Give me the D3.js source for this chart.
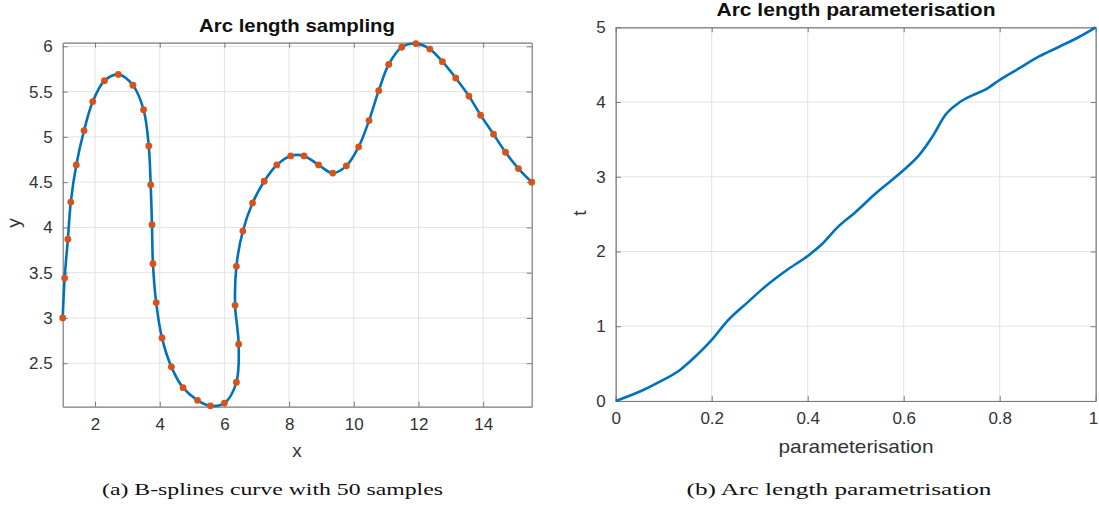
<!DOCTYPE html>
<html>
<head>
<meta charset="utf-8">
<script src="https://cdn.jsdelivr.net/npm/d3@7"></script>
<style>
  html, body { margin: 0; padding: 0; background: #fff; }
  svg { display: block; }
</style>
</head>
<body>
<svg id="chart" width="1099" height="506"></svg>
<script>
// ---- Data: (a) 50 arc-length samples on the B-spline curve ----
const sampleX = [1.00,1.06,1.16,1.25,1.42,1.66,1.93,2.29,2.72,3.17,
                 3.50,3.66,3.72,3.76,3.79,3.89,4.07,4.36,4.72,5.17,
                 5.57,6.00,6.37,6.44,6.33,6.37,6.57,6.87,7.23,7.62,
                 8.05,8.46,8.91,9.35,9.77,10.15,10.47,10.77,11.08,11.48,
                 11.92,12.35,12.74,13.15,13.56,13.92,14.32,14.69,15.09,15.50];
const sampleY = [3.00,3.44,3.87,4.28,4.69,5.07,5.39,5.62,5.69,5.57,
                 5.30,4.90,4.47,4.03,3.60,3.17,2.78,2.46,2.23,2.09,
                 2.03,2.06,2.29,2.71,3.14,3.57,3.96,4.27,4.51,4.69,
                 4.79,4.79,4.69,4.60,4.68,4.89,5.18,5.51,5.80,5.99,
                 6.03,5.97,5.83,5.65,5.45,5.24,5.03,4.83,4.65,4.50];
const xTicksA = [2,4,6,8,10,12,14];
const yTicksA = [2.5,3,3.5,4,4.5,5,5.5,6];

// ---- Data: (b) arc length parameterisation ----
const paramS = [0,0.0575,0.092,0.134,0.162,0.2,0.231,0.273,0.315,0.356,
                0.4,0.43,0.46,0.5,0.542,0.6,0.632,0.66,
                0.687,0.715,0.743,0.771,0.801,0.84,0.882,0.924,0.965,1];
const paramT = [0,0.147,0.258,0.415,0.571,0.817,1.06,1.31,1.55,1.75,
                1.94,2.10,2.31,2.53,2.78,3.09,3.29,3.54,
                3.83,3.99,4.09,4.17,4.30,4.45,4.61,4.74,4.87,5];
const xTicksB = [0,0.2,0.4,0.6,0.8,1];
const yTicksB = [0,1,2,3,4,5];

const svg = d3.select("#chart");
const LINE = "#0072BD", MARK = "#D95319", AXIS = "#7a7a7a", GRID = "#e3e3e3", TXT = "#333333";
const SANS = "'Liberation Sans', Arial, sans-serif";
const SERIF = "'Liberation Serif', 'DejaVu Serif', serif";

function panel(o) {
  const x = d3.scaleLinear().domain(o.xDomain).range([o.left, o.right]);
  const y = d3.scaleLinear().domain(o.yDomain).range([o.bottom, o.top]);
  const g = svg.append("g");
  g.append("g").selectAll("line").data(o.xTicks).join("line")
    .attr("x1", d => x(d)).attr("x2", d => x(d)).attr("y1", o.top).attr("y2", o.bottom)
    .attr("stroke", GRID).attr("stroke-width", 1);
  g.append("g").selectAll("line").data(o.yTicks).join("line")
    .attr("y1", d => y(d)).attr("y2", d => y(d)).attr("x1", o.left).attr("x2", o.right)
    .attr("stroke", GRID).attr("stroke-width", 1);
  const fmt = o.fmt;
  const ax = (gen, tr) => g.append("g").attr("transform", tr).call(gen);
  const bottom = ax(d3.axisBottom(x).tickValues(o.xTicks).tickFormat(fmt).tickSizeInner(-5).tickSizeOuter(0).tickPadding(11), `translate(0,${o.bottom})`);
  const left = ax(d3.axisLeft(y).tickValues(o.yTicks).tickFormat(fmt).tickSizeInner(-5).tickSizeOuter(0).tickPadding(10), `translate(${o.left},0)`);
  const top = ax(d3.axisTop(x).tickValues(o.xTicks).tickFormat("").tickSizeInner(-5).tickSizeOuter(0), `translate(0,${o.top})`);
  const right = ax(d3.axisRight(y).tickValues(o.yTicks).tickFormat("").tickSizeInner(-5).tickSizeOuter(0), `translate(${o.right},0)`);
  [bottom, left, top, right].forEach(a => {
    a.select(".domain").attr("stroke", AXIS).attr("stroke-width", 1.2);
    a.selectAll(".tick line").attr("stroke", AXIS).attr("stroke-width", 1);
    a.selectAll(".tick text").attr("fill", TXT).style("font-size", "17px").style("font-family", SANS);
  });
  return {x, y, g, bottom};
}

function label(x, y, txt, opts) {
  const t = svg.append("text").attr("x", x).attr("y", y).attr("text-anchor", "middle")
    .style("font-family", opts.family || SANS).style("font-size", opts.size + "px")
    .attr("fill", opts.fill || TXT).text(txt);
  if (opts.bold) t.style("font-weight", "bold");
  if (opts.len) t.attr("textLength", opts.len).attr("lengthAdjust", "spacingAndGlyphs");
  if (opts.rotate) t.attr("x", null).attr("y", null).attr("transform", `translate(${x},${y}) rotate(-90)`);
  return t;
}

// ---- Panel (a) ----
const A = panel({left: 62.7, right: 531.7, top: 42.7, bottom: 406.7,
  xDomain: [1, 15.5], yDomain: [2.02, 6.04], xTicks: xTicksA, yTicks: yTicksA,
  fmt: d => String(d)});
const ptsA = sampleX.map((v, i) => [v, sampleY[i]]);
A.g.append("path").datum(ptsA)
  .attr("d", d3.line().x(d => A.x(d[0])).y(d => A.y(d[1])).curve(d3.curveCatmullRom.alpha(0.5)))
  .attr("fill", "none").attr("stroke", LINE).attr("stroke-width", 2.6);
A.g.append("g").selectAll("circle").data(ptsA).join("circle")
  .attr("cx", d => A.x(d[0])).attr("cy", d => A.y(d[1])).attr("r", 3.4).attr("fill", MARK);

label(297, 31.5, "Arc length sampling", {size: 19, bold: true, fill: "#111", len: 196});
label(297, 457, "x", {size: 19});
label(20, 223, "y", {size: 19, rotate: true});

// ---- Panel (b) ----
const B = panel({left: 615.7, right: 1095.7, top: 27.3, bottom: 401,
  xDomain: [0, 1], yDomain: [0, 5], xTicks: xTicksB, yTicks: yTicksB,
  fmt: d => String(d)});
// keep the last tick label ("1") inside the page edge
B.bottom.selectAll(".tick text").filter(d => d === 1).attr("text-anchor", "end").attr("dx", 2);
const ptsB = paramS.map((v, i) => [v, paramT[i]]);
B.g.append("path").datum(ptsB)
  .attr("d", d3.line().x(d => B.x(d[0])).y(d => B.y(d[1])).curve(d3.curveMonotoneX))
  .attr("fill", "none").attr("stroke", LINE).attr("stroke-width", 2.6);

label(856, 15.5, "Arc length parameterisation", {size: 18.5, bold: true, fill: "#111", len: 279});
label(856, 453, "parameterisation", {size: 19, len: 155});
label(586, 213, "t", {size: 19, rotate: true});

// ---- Captions ----
label(272.5, 495, "(a) B-splines curve with 50 samples", {size: 17, family: SERIF, fill: "#111", len: 341});
label(839, 495, "(b) Arc length parametrisation", {size: 17, family: SERIF, fill: "#111", len: 305});
</script>
</body>
</html>
